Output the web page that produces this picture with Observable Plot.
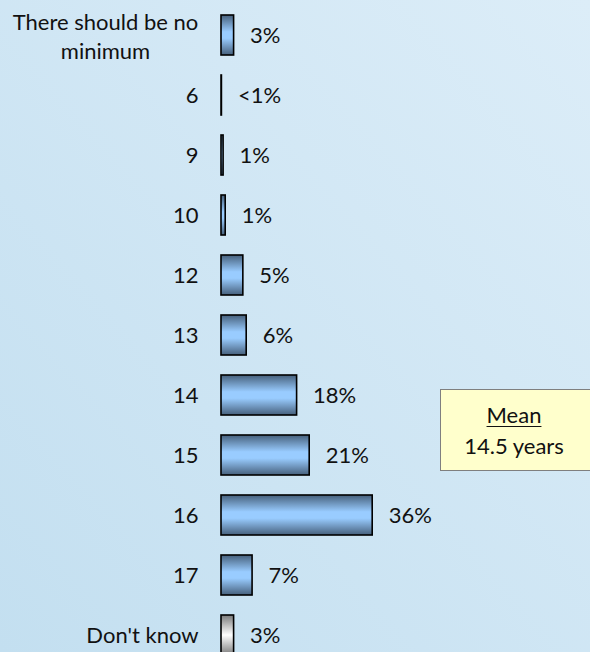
<!DOCTYPE html>
<html>
<head>
<meta charset="utf-8">
<script src="https://cdn.jsdelivr.net/npm/d3@7"></script>
<script src="https://cdn.jsdelivr.net/npm/@observablehq/plot@0.6"></script>
<style>
  html, body { margin: 0; padding: 0; }
  #wrap {
    position: relative; width: 590px; height: 652px; overflow: hidden;
    background: linear-gradient(to top right, #c3dff0, #dcedf8);
    font-family: Lato, "Open Sans", sans-serif;
  }
  #wrap svg { position: absolute; left: 0; top: 0; background: transparent; }
  #mean {
    position: absolute; left: 440px; top: 389px; width: 156px; height: 82px;
    background: #ffffcc; border: 1px solid #7f7f7f; box-sizing: border-box;
    font-size: 22px; color: #111; line-height: 31px;
    display: flex; flex-direction: column; justify-content: center; align-items: center;
    padding-right: 8px;
  }
  #mean u { text-decoration-thickness: 1px; text-underline-offset: 3px; }
</style>
</head>
<body>
<div id="wrap"></div>
<script>
const categories = ["There should be no minimum", "6", "9", "10", "12", "13", "14", "15", "16", "17", "Don't know"];
const categoryLabels = ["There should be no\nminimum", "6", "9", "10", "12", "13", "14", "15", "16", "17", "Don't know"];
const values = [3, 0.1, 0.5, 1, 5.2, 6, 18, 21, 36, 7.4, 3];
const valueLabels = ["3%", "<1%", "1%", "1%", "5%", "6%", "18%", "21%", "36%", "7%", "3%"];
const meanTitle = "Mean";
const meanValue = "14.5 years";

const data = categories.map((c, i) => ({
  cat: c, label: categoryLabels[i], value: values[i], valueLabel: valueLabels[i],
  dk: c === "Don't know"
}));

const plot = Plot.plot({
  width: 590,
  height: 652,
  margin: 0,
  style: { background: "transparent", fontFamily: "Lato, 'Open Sans', sans-serif", color: "#111", overflow: "hidden" },
  x: { domain: [0, 80], range: [221, 557], axis: null },
  y: { type: "band", domain: categories, range: [4.5, 664.5], paddingInner: 1 / 3, paddingOuter: 1 / 6, axis: null },
  marks: [
    Plot.barX(data.filter(d => !d.dk), { x: "value", y: "cat", fill: "url(#gBlue)", stroke: "#000", strokeWidth: 1.6 }),
    Plot.barX(data.filter(d => d.dk), { x: "value", y: "cat", fill: "url(#gGray)", stroke: "#000", strokeWidth: 1.6 }),
    Plot.text(data, { x: "value", y: "cat", text: "valueLabel", dx: 16, textAnchor: "start", fontSize: 22, fill: "#111" }),
    Plot.text(data.slice(1), { x: () => 0, y: "cat", text: "label", dx: -23, textAnchor: "end", fontSize: 22, fill: "#111" }),
    Plot.text(data.slice(0, 1), { x: () => 0, y: "cat", text: "label", dx: -116, textAnchor: "middle", fontSize: 22, lineHeight: 1.3, fill: "#111" })
  ]
});

const defs = d3.select(plot).insert("defs", ":first-child");
const gb = defs.append("linearGradient").attr("id", "gBlue").attr("x1", 0).attr("y1", 0).attr("x2", 0).attr("y2", 1);
[[0, "#46607c"], [0.42, "#99ccff"], [0.58, "#99ccff"], [1, "#46607c"]].forEach(([o, c]) =>
  gb.append("stop").attr("offset", o).attr("stop-color", c));
const gg = defs.append("linearGradient").attr("id", "gGray").attr("x1", 0).attr("y1", 0).attr("x2", 0).attr("y2", 1);
[[0, "#7a7a7a"], [0.5, "#ffffff"], [1, "#7a7a7a"]].forEach(([o, c]) =>
  gg.append("stop").attr("offset", o).attr("stop-color", c));

const wrap = document.getElementById("wrap");
wrap.appendChild(plot);
const box = document.createElement("div");
box.id = "mean";
box.innerHTML = `<u>${meanTitle}</u><span>${meanValue}</span>`;
wrap.appendChild(box);
</script>
</body>
</html>
